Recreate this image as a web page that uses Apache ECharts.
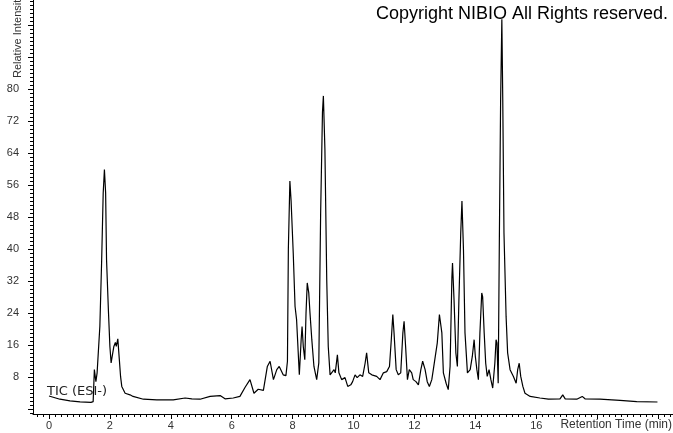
<!DOCTYPE html>
<html>
<head>
<meta charset="utf-8">
<script src="https://cdn.jsdelivr.net/npm/echarts@6/dist/echarts.min.js"></script>
<style>
  html, body { margin: 0; padding: 0; background: #fff; }
  #chart { width: 673px; height: 433px; }
</style>
</head>
<body>
<div id="chart"></div>
<script>
  // retention time (min) and relative intensity
  const times = [
    0.00, 0.36, 0.69, 1.02, 1.38, 1.45, 1.49, 1.54, 1.58, 1.67, 1.73, 1.78, 1.82, 1.86, 1.89, 1.95,
    2.00, 2.04, 2.06, 2.13, 2.18, 2.21, 2.26, 2.31, 2.35, 2.39, 2.50, 2.66, 2.76, 3.10, 3.54, 4.08,
    4.47, 4.69, 4.96, 5.29, 5.62, 5.78, 6.05, 6.27, 6.44, 6.60, 6.73, 6.87, 7.04, 7.17, 7.26, 7.37,
    7.48, 7.56, 7.69, 7.78, 7.83, 7.86, 7.91, 7.95, 8.02, 8.08, 8.13, 8.19, 8.22, 8.28, 8.31, 8.35,
    8.40, 8.44, 8.48, 8.53, 8.57, 8.63, 8.70, 8.79, 8.86, 8.92, 8.98, 9.01, 9.06, 9.12, 9.17, 9.23,
    9.28, 9.36, 9.40, 9.47, 9.52, 9.61, 9.72, 9.81, 9.91, 9.97, 10.05, 10.12, 10.21, 10.30, 10.38, 10.43,
    10.50, 10.60, 10.76, 10.87, 10.98, 11.09, 11.18, 11.24, 11.29, 11.33, 11.40, 11.47, 11.55, 11.62, 11.66, 11.71,
    11.77, 11.83, 11.91, 11.96, 12.05, 12.13, 12.21, 12.27, 12.35, 12.42, 12.49, 12.57, 12.62, 12.68, 12.75, 12.82,
    12.90, 12.95, 13.04, 13.11, 13.17, 13.23, 13.25, 13.30, 13.36, 13.41, 13.46, 13.52, 13.56, 13.61, 13.66, 13.74,
    13.83, 13.90, 13.96, 14.00, 14.05, 14.10, 14.15, 14.21, 14.24, 14.29, 14.34, 14.39, 14.45, 14.51, 14.57, 14.64,
    14.68, 14.71, 14.75, 14.79, 14.83, 14.87, 14.90, 14.94, 15.01, 15.06, 15.14, 15.25, 15.34, 15.39, 15.44, 15.49,
    15.56, 15.63, 15.80, 16.12, 16.40, 16.78, 16.87, 16.95, 17.33, 17.51, 17.60, 18.09, 18.75, 19.30, 19.98
  ];
  const intensity = [
    3.2, 2.4, 2.0, 1.75, 1.6, 1.8, 9.8, 6.8, 9.0, 20.6, 37.3, 54.0, 59.9, 54.0, 37.3, 24.8,
    15.6, 11.5, 11.0, 15.6, 16.6, 15.6, 17.5, 12.3, 8.1, 5.6, 3.9, 3.5, 3.1, 2.4, 2.25, 2.25,
    2.7, 2.5, 2.4, 3.1, 3.3, 2.5, 2.7, 3.1, 5.4, 7.3, 3.9, 4.9, 4.6, 10.6, 11.9, 7.3,
    9.8, 10.6, 8.5, 8.3, 11.9, 40.0, 57.0, 52.0, 39.0, 25.6, 22.3, 13.1, 8.5, 17.3, 20.6, 15.6,
    12.3, 24.0, 31.5, 29.0, 24.0, 17.3, 10.6, 7.3, 11.5, 49.0, 74.2, 78.3, 65.0, 32.3, 15.6, 8.5,
    9.0, 9.8, 9.0, 13.5, 9.0, 7.3, 7.8, 5.6, 6.0, 6.8, 8.5, 7.8, 8.5, 8.1, 11.4, 14.0,
    9.0, 8.5, 8.1, 7.3, 9.0, 9.3, 10.6, 17.3, 23.6, 19.0, 9.8, 8.5, 9.0, 19.0, 21.9, 15.6,
    7.3, 9.8, 9.0, 7.3, 6.8, 6.0, 9.8, 11.9, 9.8, 6.8, 5.6, 7.3, 9.8, 10.3, 16.5, 23.6,
    19.0, 9.0, 6.4, 4.8, 10.6, 33.0, 36.5, 27.3, 14.0, 10.6, 27.3, 44.0, 52.0, 39.8, 19.0, 9.0,
    9.8, 13.1, 17.3, 13.1, 9.8, 7.3, 19.0, 29.0, 28.0, 19.0, 11.4, 8.1, 9.8, 7.3, 5.2, 11.4,
    17.3, 16.5, 6.4, 44.0, 77.4, 97.5, 77.4, 44.0, 23.0, 14.0, 9.8, 8.1, 6.4, 9.8, 11.4, 8.1,
    5.6, 3.9, 3.1, 2.7, 2.4, 2.5, 3.5, 2.5, 2.4, 3.1, 2.5, 2.4, 2.1, 1.8, 1.7
  ];

  const xLabels = [0, 2, 4, 6, 8, 10, 12, 14, 16];
  const xMajor = [0, 2, 4, 6, 8, 10, 12, 14, 16, 18, 20];
  const yLabels = [8, 16, 24, 32, 40, 48, 56, 64, 72, 80];
  const yMajor = [0, 8, 16, 24, 32, 40, 48, 56, 64, 72, 80, 88, 96];

  const xMinor = [];
  for (let i = -2; i <= 102; i++) xMinor.push(+(i * 0.2).toFixed(2));
  const yMinor = [];
  for (let i = -1; i <= 102; i++) yMinor.push(i);

  const X_MIN = -0.525, X_MAX = 20.49;
  const Y_MIN = -1.3, Y_MAX = 102.3;

  const labelFont = { fontFamily: 'Liberation Sans, Arial, sans-serif', fontSize: 11, color: '#333' };

  const chart = echarts.init(document.getElementById('chart'), null, { renderer: 'canvas' });
  chart.setOption({
    animation: false,
    backgroundColor: '#fff',
    grid: { left: 33, right: 0, top: 0, bottom: 19, containLabel: false },
    xAxis: [{
      type: 'value', min: X_MIN, max: X_MAX, position: 'bottom',
      axisLine: { show: true, onZero: false, lineStyle: { color: '#000', width: 1 } },
      axisTick: { show: true, customValues: xMajor, length: 5, lineStyle: { color: '#000' } },
      axisLabel: Object.assign({ customValues: xLabels, margin: 6 }, labelFont),
      splitLine: { show: false }
    }, {
      type: 'value', min: X_MIN, max: X_MAX, position: 'bottom',
      axisLine: { show: false, onZero: false },
      axisTick: { show: true, customValues: xMinor, length: 3, lineStyle: { color: '#000' } },
      axisLabel: { show: false },
      splitLine: { show: false }
    }],
    yAxis: [{
      type: 'value', min: Y_MIN, max: Y_MAX, position: 'left',
      axisLine: { show: true, onZero: false, lineStyle: { color: '#000', width: 1 } },
      axisTick: { show: true, customValues: yMajor, length: 5, lineStyle: { color: '#000' } },
      axisLabel: Object.assign({ customValues: yLabels, margin: 14 }, labelFont),
      splitLine: { show: false }
    }, {
      type: 'value', min: Y_MIN, max: Y_MAX, position: 'left',
      axisLine: { show: false, onZero: false },
      axisTick: { show: true, customValues: yMinor, length: 3, lineStyle: { color: '#000' } },
      axisLabel: { show: false },
      splitLine: { show: false }
    }],
    graphic: [{
      type: 'text', x: 376, y: 14, z: 1,
      style: { text: 'Copyright NIBIO All Rights reserved.', fill: '#000',
        font: '18px "Liberation Sans", Arial, sans-serif', textVerticalAlign: 'middle' }
    }, {
      type: 'text', x: 47, y: 392, z: 1,
      style: { text: 'TIC (ESI-)', fill: '#222',
        font: '13px "DejaVu Sans", Verdana, sans-serif', textVerticalAlign: 'middle' }
    }, {
      type: 'text', x: 672, y: 425, z: 1,
      style: { text: 'Retention Time (min)', fill: '#333', textAlign: 'right',
        font: '12px "Liberation Sans", Arial, sans-serif', textVerticalAlign: 'middle' }
    }, {
      type: 'text', x: 18, y: 78, rotation: Math.PI / 2, z: 1,
      style: { text: 'Relative Intensity', fill: '#333', textAlign: 'left',
        font: '11px "Liberation Sans", Arial, sans-serif', textVerticalAlign: 'middle' }
    }],
    series: [{
      type: 'line',
      xAxisIndex: 0, yAxisIndex: 0,
      data: times.map((t, i) => [t, intensity[i]]),
      showSymbol: false,
      symbol: 'none',
      z: 5,
      lineStyle: { color: '#000', width: 1.2 }
    }]
  });
</script>
</body>
</html>
